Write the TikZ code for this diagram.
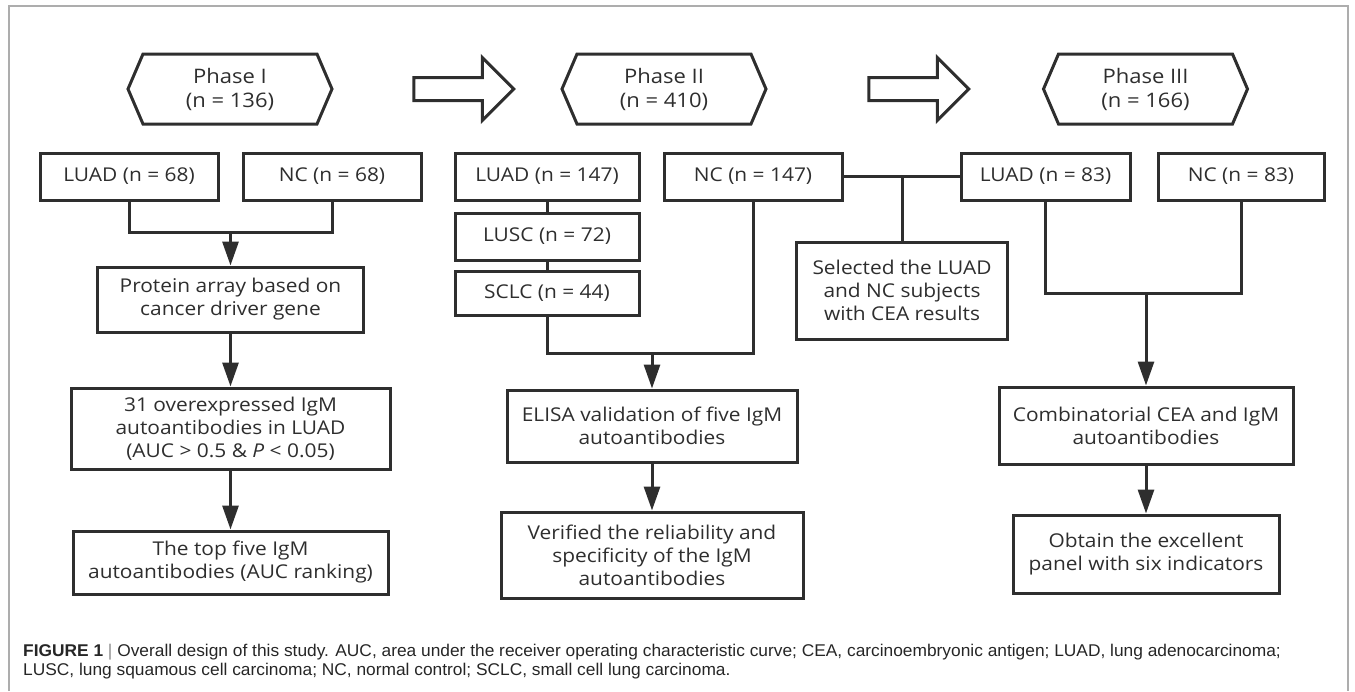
\documentclass[tikz,border=0pt]{standalone}
\usepackage{fontspec}
\setmainfont{Open Sans}[FakeStretch=1.1]
\newfontfamily\captionfont{Liberation Sans}[FakeStretch=1.02]
\usepackage{xcolor}
\usepackage{tikz}
\usetikzlibrary{arrows.meta,shapes.arrows}

\definecolor{inkgray}{HTML}{2E2E2E}
\definecolor{framegray}{HTML}{ADADAD}

\begin{document}
\begin{tikzpicture}[
  x=1pt,
  y=-1pt,
  >={Triangle[length=24pt,width=16pt]},
  every node/.style={font=\fontsize{19}{23}\selectfont,text=inkgray},
  box/.style={draw=inkgray,line width=3pt,inner sep=0pt,align=center},
  link/.style={draw=inkgray,line width=3pt},
  flow/.style={->,draw=inkgray,line width=3pt},
  phaseframe/.style={draw=inkgray,line width=3pt,line join=miter},
  phaselabel/.style={align=center,inner sep=0pt,font=\fontsize{20}{24}\selectfont},
  bigarrow/.style={
    single arrow,
    draw=inkgray,
    line width=3pt,
    inner sep=10pt,
    minimum height=100pt,
    minimum width=60pt,
    single arrow head extend=20pt,
    single arrow tip angle=90
  },
  captionline/.style={
    anchor=base west,
    inner sep=0pt,
    text=black!85,
    font=\captionfont\fontsize{17}{19}\selectfont
  }
]

\useasboundingbox (0,0) rectangle (1355,691);

% Outer frame (open at the bottom edge).
\draw[framegray,line width=1.5pt] (9,691) -- (9,6) -- (1348,6) -- (1348,691);

% Phase headers and the block arrows between them.
\node[phaselabel] (ph1) at (230,89) {Phase I\\(n = 136)};
\node[phaselabel] (ph2) at (664,89) {Phase II\\(n = 410)};
\node[phaselabel] (ph3) at (1145.5,89) {Phase III\\(n = 166)};
\draw[phaseframe] ([xshift=-102pt]ph1.center)
  -- ++(15,-35) -- ++(174,0) -- ++(15,35) -- ++(-15,35) -- ++(-174,0) -- cycle;
\draw[phaseframe] ([xshift=-102pt]ph2.center)
  -- ++(15,-35) -- ++(174,0) -- ++(15,35) -- ++(-15,35) -- ++(-174,0) -- cycle;
\draw[phaseframe] ([xshift=-102pt]ph3.center)
  -- ++(15,-35) -- ++(174,0) -- ++(15,35) -- ++(-15,35) -- ++(-174,0) -- cycle;

\node[bigarrow] (go1) at (458,89) {};
\node[bigarrow] (go2) at (913,89) {};

% Phase I column.
\node[box,minimum width=178,minimum height=47] (luad1) at (129,176.5) {LUAD (n = 68)};
\node[box,minimum width=178,minimum height=47] (nc1) at (332,176.5) {NC (n = 68)};
\node[box,minimum width=266,minimum height=65] (protein) at (230.5,299.5)
  {Protein array based on\\cancer driver gene};
\node[box,minimum width=319,minimum height=81] (overexp) at (230.5,428.5)
  {31 overexpressed IgM\\autoantibodies in LUAD\\(AUC > 0.5 \& \textit{P} < 0.05)};
\node[box,minimum width=315,minimum height=63] (topfive) at (230.5,562.5)
  {The top five IgM\\autoantibodies (AUC ranking)};

% Phase II column.
\node[box,minimum width=184,minimum height=47] (luad2) at (547,176.5) {LUAD (n = 147)};
\node[box,minimum width=184,minimum height=47] (lusc) at (547,236.5) {LUSC (n = 72)};
\node[box,minimum width=184,minimum height=44] (sclc) at (547,293) {SCLC (n = 44)};
\node[box,minimum width=178,minimum height=47] (nc2) at (753,176.5) {NC (n = 147)};
\node[box,minimum width=290,minimum height=72] (elisa) at (652,426)
  {ELISA validation of five IgM\\autoantibodies};
\node[box,minimum width=302,minimum height=86] (verified) at (652,555)
  {Verified the reliability and\\specificity of the IgM\\autoantibodies};

% Subset carried over to phase III.
\node[box,minimum width=211,minimum height=97] (selected) at (902,290.5)
  {Selected the LUAD\\and NC subjects\\with CEA results};

% Phase III column.
\node[box,minimum width=169,minimum height=47] (luad3) at (1045.5,176.5) {LUAD (n = 83)};
\node[box,minimum width=166,minimum height=47] (nc3) at (1241,176.5) {NC (n = 83)};
\node[box,minimum width=294,minimum height=77] (combined) at (1146,425.5)
  {Combinatorial CEA and IgM\\autoantibodies};
\node[box,minimum width=266,minimum height=78] (obtain) at (1146,554)
  {Obtain the excellent\\panel with six indicators};

% Junction points.
\coordinate (j1) at (230.5,232);
\coordinate (j2) at (652,353);
\coordinate (j3) at (selected.north |- nc2.east);
\coordinate (j4) at (1146,293);

% Connectors.
\draw[link] (luad1.south) |- (nc1.south |- j1) -- (nc1.south);
\draw[flow] (j1) -- (protein.north);
\draw[flow] (protein.south) -- (overexp.north);
\draw[flow] (overexp.south) -- (topfive.north);

\draw[link] (luad2.south) -- (lusc.north);
\draw[link] (lusc.south) -- (sclc.north);
\draw[link] (sclc.south) |- (nc2.south |- j2) -- (nc2.south);
\draw[flow] (j2) -- (elisa.north);
\draw[flow] (elisa.south) -- (verified.north);

\draw[link] (nc2.east) -- (luad3.west);
\draw[link] (j3) -- (selected.north);

\draw[link] (luad3.south) |- (nc3.south |- j4) -- (nc3.south);
\draw[flow] (j4) -- (combined.north);
\draw[flow] (combined.south) -- (obtain.north);

% Caption.
\node[captionline] (cap1) at (23,656)
  {\textbf{FIGURE 1} {\color{black!45}|} Overall design of this study. AUC, area under the receiver operating characteristic curve; CEA, carcinoembryonic antigen; LUAD, lung adenocarcinoma;};
\node[captionline] (cap2) at (23,675)
  {LUSC, lung squamous cell carcinoma; NC, normal control; SCLC, small cell lung carcinoma.};

\end{tikzpicture}
\end{document}
